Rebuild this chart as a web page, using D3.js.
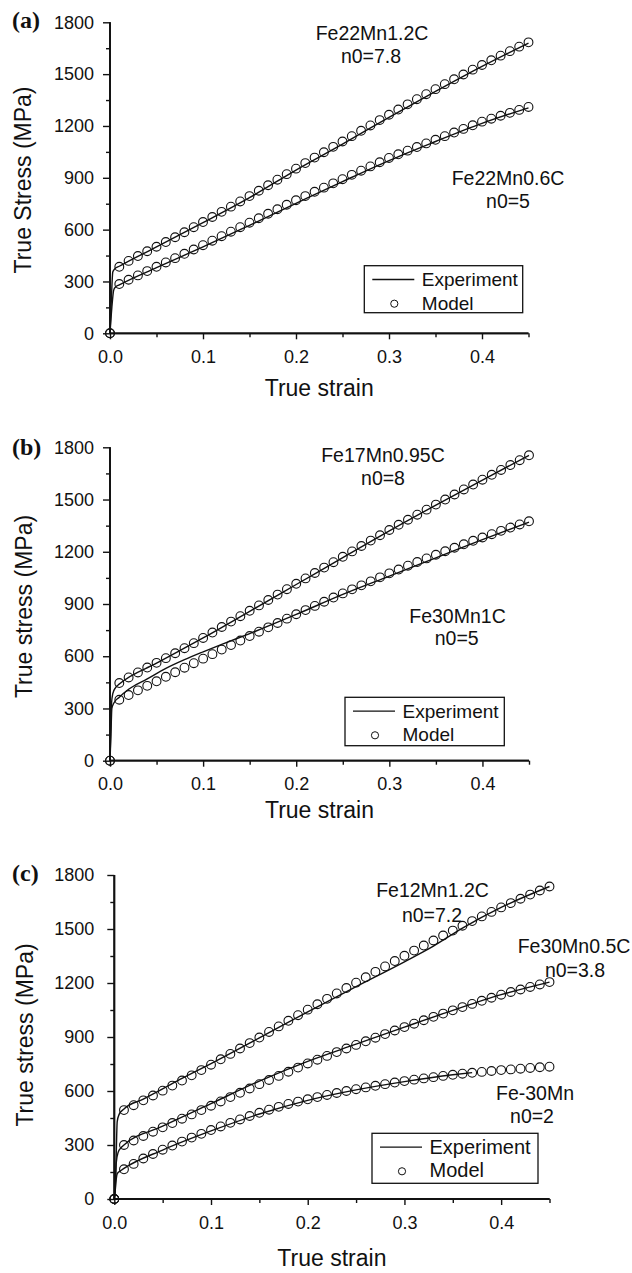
<!DOCTYPE html>
<html>
<head>
<meta charset="utf-8">
<script src="https://cdn.jsdelivr.net/npm/d3@7/dist/d3.min.js"></script>
<style>
  body { margin: 0; background: #fff; }
  svg { display: block; }
  text { fill: #111; }
</style>
</head>
<body>
<script>
// ---- data ----
var modelStrain = [0, 0.01, 0.02, 0.03, 0.04, 0.05, 0.06, 0.07, 0.08, 0.09, 0.10,
  0.11, 0.12, 0.13, 0.14, 0.15, 0.16, 0.17, 0.18, 0.19, 0.20,
  0.21, 0.22, 0.23, 0.24, 0.25, 0.26, 0.27, 0.28, 0.29, 0.30,
  0.31, 0.32, 0.33, 0.34, 0.35, 0.36, 0.37, 0.38, 0.39, 0.40,
  0.41, 0.42, 0.43, 0.44, 0.45]

var xTicks = [0, 0.1, 0.2, 0.3, 0.4]
var xMinor = [0.05, 0.15, 0.25, 0.35, 0.45]
var yTicks = [0, 300, 600, 900, 1200, 1500, 1800]
var yMinor = [150, 450, 750, 1050, 1350, 1650]

// (a)
var modelFe22Mn12C = [0, 385, 419, 447, 475, 501, 528, 556, 585, 614, 644,
  673, 703, 733, 763, 794, 825, 857, 889, 921, 953,
  985, 1017, 1048, 1079, 1110, 1141, 1172, 1203, 1234, 1265,
  1295, 1325, 1355, 1384, 1413, 1442, 1470, 1498, 1526, 1553,
  1580, 1607, 1633, 1659, 1684]
var modelFe22Mn06C = [0, 285, 310, 335, 360, 385, 410, 435, 460, 485, 510,
  536, 562, 588, 614, 640, 666, 692, 718, 744, 770,
  794, 819, 843, 868, 892, 917, 941, 966, 990, 1015,
  1036, 1057, 1078, 1099, 1120, 1141, 1162, 1183, 1204, 1225,
  1242, 1259, 1276, 1293, 1310]
var expFe22Mn12C = [[0,0],[0.0015,200],[0.003,355],[0.005,372],[0.01,388],[0.03,445],[0.05,500],
  [0.1,640],[0.15,785],[0.2,945],[0.25,1095],[0.3,1250],[0.35,1400],[0.4,1545],[0.45,1680]]
var expFe22Mn06C = [[0,0],[0.002,150],[0.004,250],[0.006,268],[0.01,280],[0.05,380],[0.1,500],
  [0.15,625],[0.2,752],[0.25,878],[0.3,1000],[0.35,1110],[0.4,1215],[0.45,1305]]

// (b)
var modelFe17Mn095C = [0, 446, 478, 507, 535, 562, 589, 617, 646, 675, 705,
  736, 768, 799, 830, 861, 892, 923, 954, 985, 1016,
  1047, 1078, 1109, 1140, 1171, 1202, 1233, 1264, 1295, 1325,
  1355, 1384, 1413, 1442, 1471, 1500, 1529, 1558, 1586, 1614,
  1642, 1670, 1698, 1726, 1754]
var modelFe30Mn1C = [0, 350, 377, 404, 430, 456, 482, 508, 534, 560, 586,
  612, 638, 664, 690, 716, 741, 766, 791, 816, 841,
  865, 889, 913, 937, 961, 984, 1007, 1030, 1053, 1076,
  1098, 1120, 1141, 1162, 1183, 1203, 1223, 1243, 1263, 1282,
  1301, 1320, 1339, 1357, 1375]
var expFe17Mn095C = [[0,0],[0.0007,150],[0.0015,320],[0.003,385],[0.006,420],[0.01,440],[0.05,560],
  [0.1,705],[0.15,858],[0.2,1012],[0.25,1166],[0.3,1320],[0.35,1468],[0.4,1612],[0.45,1754]]
var expFe30Mn1C = [[0,0],[0.001,150],[0.002,300],[0.004,330],[0.01,365],[0.02,410],[0.04,470],
  [0.06,530],[0.08,580],[0.1,625],[0.12,668],[0.15,730],[0.2,840],[0.25,955],[0.3,1060],
  [0.35,1165],[0.4,1270],[0.45,1370]]

// (c)
var modelFe12Mn12C = [0, 494, 521, 548, 575, 602, 630, 658, 687, 716, 746,
  776, 806, 836, 866, 897, 928, 959, 990, 1021, 1052,
  1082, 1112, 1142, 1172, 1202, 1232, 1262, 1292, 1322, 1351,
  1380, 1408, 1436, 1464, 1491, 1518, 1544, 1570, 1595, 1620,
  1644, 1668, 1691, 1714, 1736]
var modelFe30Mn05C = [0, 300, 325, 350, 374, 398, 422, 446, 470, 494, 518,
  542, 566, 590, 614, 638, 661, 684, 707, 730, 753,
  774, 795, 816, 836, 856, 876, 896, 916, 936, 955,
  974, 993, 1012, 1030, 1048, 1066, 1084, 1101, 1118, 1135,
  1150, 1164, 1178, 1192, 1205]
var modelFe30Mn = [0, 165, 195, 225, 250, 274, 297, 319, 341, 362, 383,
  403, 423, 442, 461, 479, 496, 512, 528, 541, 554,
  566, 578, 589, 600, 610, 620, 629, 638, 647, 655,
  663, 670, 677, 684, 690, 696, 701, 706, 711, 716,
  720, 724, 728, 732, 735]
var expFe12Mn12C = [[0,0],[0.001,60],[0.002,250],[0.003,430],[0.005,470],[0.01,500],[0.03,555],
  [0.05,612],[0.07,670],[0.1,752],[0.15,895],[0.2,1040],[0.25,1180],[0.3,1318],[0.33,1405],
  [0.36,1505],[0.4,1620],[0.45,1736]]
var expFe30Mn05C = [[0,0],[0.001,80],[0.002,200],[0.004,260],[0.007,285],[0.01,300],[0.05,405],
  [0.1,530],[0.15,655],[0.2,765],[0.25,860],[0.3,955],[0.35,1048],[0.4,1135],[0.45,1205]]
var expFe30Mn = [[0,0],[0.001,50],[0.002,110],[0.003,140],[0.006,155],[0.01,170],[0.05,272],
  [0.1,378],[0.15,472],[0.2,548],[0.25,606],[0.3,652],[0.35,690],[0.37,702]]

var notesA = [["Fe22Mn1.2C",372,40],["n0=7.8",371,63],["Fe22Mn0.6C",508,184.5],["n0=5",508,208]]
var notesB = [["Fe17Mn0.95C",383,461.7],["n0=8",383,485],["Fe30Mn1C",457.5,622.7],["n0=5",456.7,645]]
var notesC = [["Fe12Mn1.2C",432.5,896.7],["n0=7.2",432,921.7],["Fe30Mn0.5C",574,953.3],
  ["n0=3.8",575,976.7],["Fe-30Mn",535,1100],["n0=2",532,1123.3]]

var panels = [
  {letter:"(a)", letterY:27.5, x0:110, x1:528.5, y0:333.3, y1:22.3, yPad:9,
   ytitle:"True Stress (MPa)", ytitleX:30.5, ytitleY:180, xtitleY:396,
   models:[modelFe22Mn12C, modelFe22Mn06C], exps:[expFe22Mn12C, expFe22Mn06C],
   notes:notesA, legend:{x:364.3, y:265.7, w:158.4, h:47, fs:19}},
  {letter:"(b)", letterY:454.5, x0:110, x1:529, y0:760.7, y1:447.3, yPad:9,
   ytitle:"True stress (MPa)", ytitleX:32, ytitleY:606.5, xtitleY:818,
   models:[modelFe17Mn095C, modelFe30Mn1C], exps:[expFe17Mn095C, expFe30Mn1C],
   notes:notesB, legend:{x:345, y:697.3, w:159.3, h:48.4, fs:19}},
  {letter:"(c)", letterY:881, x0:114.3, x1:549.5, y0:1199, y1:875, yPad:13,
   ytitle:"True stress (MPa)", ytitleX:33, ytitleY:1035, xtitleY:1266,
   models:[modelFe12Mn12C, modelFe30Mn05C, modelFe30Mn], exps:[expFe12Mn12C, expFe30Mn05C, expFe30Mn],
   notes:notesC, legend:{x:372, y:1133.3, w:166, h:50, fs:20}}
]

var sans = '"Liberation Sans", Arial, sans-serif'
var serif = '"Liberation Serif", "Times New Roman", serif'

var svg = d3.select('body').append('svg')
  .attr('width', 632)
  .attr('height', 1273)
svg.append('rect').attr('width', 632).attr('height', 1273).attr('fill', '#fff')

var line = d3.line()
  .x(function(d){return d[0]})
  .y(function(d){return d[1]})
  .curve(d3.curveMonotoneX)

panels.forEach(function(p){
  var x = d3.scaleLinear().domain([0, 0.45]).range([p.x0, p.x1])
  var y = d3.scaleLinear().domain([0, 1800]).range([p.y0, p.y1])
  var g = svg.append('g').style('font-family', sans)

  // experiment curves
  p.exps.forEach(function(e){
    g.append('path')
      .attr('d', line(e.map(function(d){return [x(d[0]), y(d[1])]})))
      .attr('fill', 'none')
      .attr('stroke', '#111')
      .attr('stroke-width', 1.4)
  })

  // axes (minor first, then major with labels)
  var xm = g.append('g').attr('transform', 'translate(0,' + p.y0 + ')')
    .call(d3.axisBottom(x).tickValues(xMinor).tickSize(4).tickFormat(''))
  var xa = g.append('g').attr('transform', 'translate(0,' + p.y0 + ')')
    .call(d3.axisBottom(x).tickValues(xTicks).tickSize(6).tickPadding(11).tickFormat(d3.format('.1f')))
  var ym = g.append('g').attr('transform', 'translate(' + p.x0 + ',0)')
    .call(d3.axisLeft(y).tickValues(yMinor).tickSize(4).tickFormat(''))
  var ya = g.append('g').attr('transform', 'translate(' + p.x0 + ',0)')
    .call(d3.axisLeft(y).tickValues(yTicks).tickSize(7).tickPadding(p.yPad).tickFormat(d3.format('d')))

  ;[xm, xa, ym, ya].forEach(function(a){
    a.selectAll('.domain').attr('stroke', '#111').attr('stroke-width', 1.8)
    a.selectAll('.tick line').attr('stroke', '#111').attr('stroke-width', 1.4)
    a.selectAll('text').attr('font-size', '18px').attr('fill', '#1a1a1a')
      .style('font-family', sans)
  })
  xm.select('.domain').attr('d', 'M' + p.x0 + ',0H' + p.x1)
  xa.select('.domain').attr('d', 'M' + p.x0 + ',0H' + p.x1)
  ym.select('.domain').attr('d', 'M0,' + p.y0 + 'V' + p.y1)
  ya.select('.domain').attr('d', 'M0,' + p.y0 + 'V' + p.y1)

  // model circles
  p.models.forEach(function(m){
    g.selectAll(null)
      .data(m)
      .enter()
      .append('circle')
      .attr('cx', function(d,i){return x(modelStrain[i])})
      .attr('cy', function(d){return y(d)})
      .attr('r', 4.4)
      .attr('fill', 'none')
      .attr('stroke', '#111')
      .attr('stroke-width', 1.1)
  })

  // titles
  g.append('text')
    .attr('x', 12).attr('y', p.letterY)
    .style('font-family', serif)
    .attr('font-weight', 'bold')
    .attr('font-size', '24px')
    .text(p.letter)
  g.append('text')
    .attr('x', (p.x0 + p.x1) / 2).attr('y', p.xtitleY)
    .attr('text-anchor', 'middle')
    .attr('font-size', '23px')
    .text('True strain')
  g.append('text')
    .attr('transform', 'translate(' + p.ytitleX + ',' + p.ytitleY + ') rotate(-90)')
    .attr('text-anchor', 'middle')
    .attr('font-size', '23px')
    .text(p.ytitle)

  // annotations
  p.notes.forEach(function(n){
    g.append('text')
      .attr('x', n[1]).attr('y', n[2])
      .attr('text-anchor', 'middle')
      .attr('font-size', '19.5px')
      .text(n[0])
  })

  // legend
  var L = p.legend
  var lg = g.append('g').attr('transform', 'translate(' + L.x + ',' + L.y + ')')
  lg.append('rect').attr('width', L.w).attr('height', L.h)
    .attr('fill', '#fff').attr('stroke', '#111').attr('stroke-width', 1.3)
  lg.append('line').attr('x1', 8).attr('x2', 50).attr('y1', 13.8).attr('y2', 13.8)
    .attr('stroke', '#111').attr('stroke-width', 1.4)
  lg.append('text').attr('x', 57.5).attr('y', 20.3).attr('font-size', L.fs + 'px').text('Experiment')
  lg.append('circle').attr('cx', 30).attr('cy', 38).attr('r', 3.6)
    .attr('fill', 'none').attr('stroke', '#111').attr('stroke-width', 1)
  lg.append('text').attr('x', 57.5).attr('y', 44).attr('font-size', L.fs + 'px').text('Model')
})
</script>
</body>
</html>
